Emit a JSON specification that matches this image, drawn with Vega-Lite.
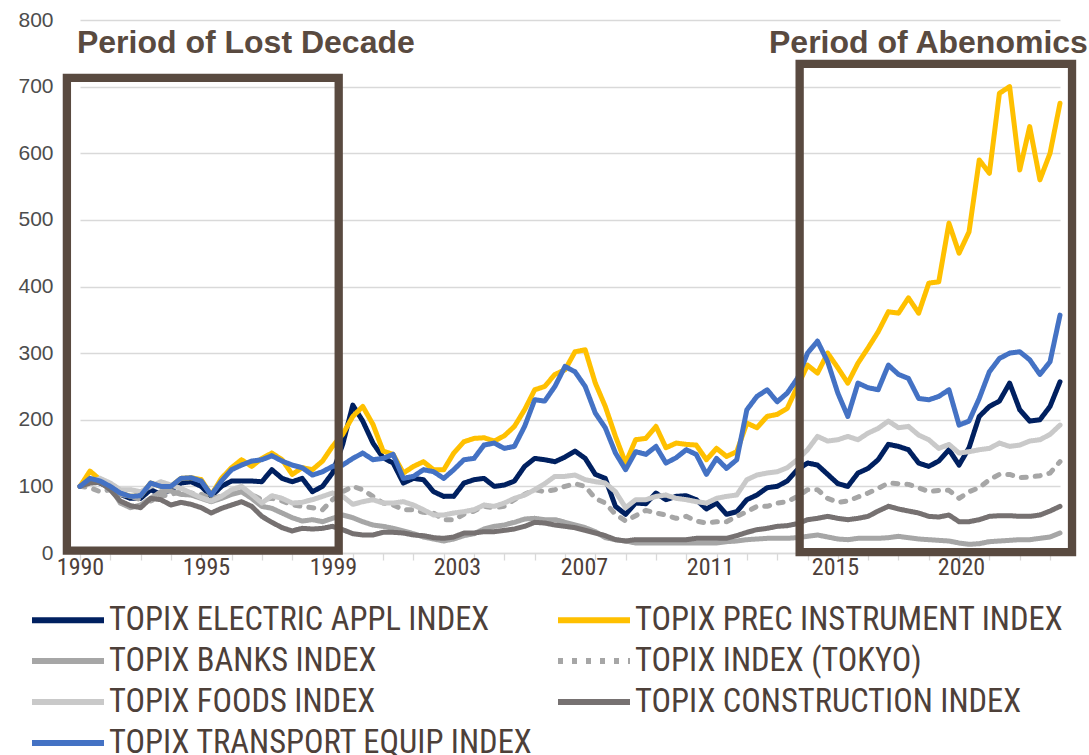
{
  "$schema": "https://vega.github.io/schema/vega-lite/v6.json",
  "width": 980,
  "height": 533,
  "autosize": {"type": "none"},
  "padding": {"left": 80, "top": 20, "right": 29, "bottom": 202},
  "background": "white",
  "config": {"view": {"stroke": null}, "font": "Liberation Sans"},
  "datasets": {
    "s": [
      {"d":"1990-01","e":100,"p":100,"b":100,"i":100,"f":100,"c":100,"t":100},
      {"d":"1990-05","e":110,"p":123,"b":110,"i":98,"f":105,"c":105,"t":112},
      {"d":"1990-09","e":105,"p":110,"b":108,"i":92,"f":112,"c":106,"t":108},
      {"d":"1991-01","e":98,"p":100,"b":100,"i":95,"f":105,"c":95,"t":100},
      {"d":"1991-05","e":88,"p":90,"b":75,"i":88,"f":95,"c":78,"t":90},
      {"d":"1991-09","e":82,"p":85,"b":68,"i":85,"f":95,"c":71,"t":85},
      {"d":"1992-01","e":82,"p":86,"b":72,"i":80,"f":92,"c":68,"t":86},
      {"d":"1992-05","e":95,"p":105,"b":82,"i":78,"f":100,"c":82,"t":105},
      {"d":"1992-09","e":88,"p":100,"b":92,"i":85,"f":107,"c":80,"t":100},
      {"d":"1993-01","e":95,"p":100,"b":93,"i":88,"f":102,"c":72,"t":100},
      {"d":"1993-05","e":105,"p":112,"b":88,"i":92,"f":97,"c":76,"t":112},
      {"d":"1993-09","e":107,"p":113,"b":87,"i":90,"f":90,"c":73,"t":113},
      {"d":"1994-01","e":100,"p":110,"b":82,"i":88,"f":83,"c":68,"t":108},
      {"d":"1994-05","e":85,"p":87,"b":77,"i":82,"f":78,"c":60,"t":87},
      {"d":"1994-09","e":100,"p":112,"b":82,"i":85,"f":85,"c":67,"t":108},
      {"d":"1995-01","e":108,"p":128,"b":88,"i":90,"f":95,"c":72,"t":125},
      {"d":"1995-05","e":108,"p":140,"b":92,"i":92,"f":100,"c":77,"t":132},
      {"d":"1995-09","e":108,"p":130,"b":82,"i":88,"f":88,"c":70,"t":138},
      {"d":"1996-01","e":107,"p":142,"b":70,"i":80,"f":75,"c":55,"t":140},
      {"d":"1996-05","e":125,"p":150,"b":67,"i":82,"f":86,"c":46,"t":146},
      {"d":"1996-09","e":112,"p":140,"b":60,"i":78,"f":82,"c":38,"t":138},
      {"d":"1997-01","e":107,"p":118,"b":53,"i":72,"f":75,"c":33,"t":132},
      {"d":"1997-05","e":112,"p":128,"b":48,"i":70,"f":76,"c":37,"t":128},
      {"d":"1997-09","e":92,"p":125,"b":50,"i":68,"f":80,"c":36,"t":117},
      {"d":"1998-01","e":100,"p":138,"b":47,"i":65,"f":85,"c":37,"t":122},
      {"d":"1998-05","e":120,"p":160,"b":52,"i":80,"f":90,"c":40,"t":130},
      {"d":"1998-09","e":163,"p":178,"b":57,"i":92,"f":85,"c":35,"t":132},
      {"d":"1999-01","e":222,"p":205,"b":53,"i":100,"f":73,"c":29,"t":142},
      {"d":"1999-05","e":198,"p":220,"b":47,"i":95,"f":77,"c":27,"t":150},
      {"d":"1999-09","e":165,"p":193,"b":42,"i":85,"f":80,"c":27,"t":140},
      {"d":"2000-01","e":143,"p":153,"b":40,"i":75,"f":75,"c":31,"t":142},
      {"d":"2000-05","e":135,"p":148,"b":37,"i":72,"f":75,"c":31,"t":148},
      {"d":"2000-09","e":105,"p":120,"b":33,"i":65,"f":77,"c":30,"t":112},
      {"d":"2001-01","e":112,"p":130,"b":29,"i":65,"f":72,"c":27,"t":115},
      {"d":"2001-05","e":110,"p":137,"b":24,"i":61,"f":65,"c":26,"t":125},
      {"d":"2001-09","e":92,"p":125,"b":21,"i":60,"f":57,"c":23,"t":122},
      {"d":"2002-01","e":85,"p":125,"b":18,"i":50,"f":57,"c":22,"t":112},
      {"d":"2002-05","e":85,"p":150,"b":21,"i":50,"f":60,"c":24,"t":125},
      {"d":"2002-09","e":105,"p":167,"b":26,"i":58,"f":62,"c":30,"t":140},
      {"d":"2003-01","e":110,"p":172,"b":29,"i":63,"f":65,"c":30,"t":142},
      {"d":"2003-05","e":112,"p":173,"b":36,"i":70,"f":72,"c":32,"t":162},
      {"d":"2003-09","e":100,"p":168,"b":40,"i":68,"f":70,"c":32,"t":165},
      {"d":"2004-01","e":102,"p":176,"b":42,"i":70,"f":75,"c":34,"t":157},
      {"d":"2004-05","e":108,"p":190,"b":46,"i":80,"f":82,"c":36,"t":160},
      {"d":"2004-09","e":130,"p":215,"b":51,"i":88,"f":87,"c":40,"t":190},
      {"d":"2005-01","e":142,"p":245,"b":52,"i":95,"f":95,"c":46,"t":230},
      {"d":"2005-05","e":140,"p":250,"b":50,"i":92,"f":104,"c":45,"t":228},
      {"d":"2005-09","e":137,"p":268,"b":50,"i":95,"f":115,"c":42,"t":250},
      {"d":"2006-01","e":144,"p":275,"b":46,"i":100,"f":115,"c":40,"t":280},
      {"d":"2006-05","e":153,"p":302,"b":42,"i":104,"f":117,"c":38,"t":272},
      {"d":"2006-09","e":142,"p":305,"b":38,"i":100,"f":110,"c":34,"t":250},
      {"d":"2007-01","e":118,"p":255,"b":32,"i":82,"f":107,"c":30,"t":210},
      {"d":"2007-05","e":112,"p":220,"b":23,"i":75,"f":105,"c":26,"t":188},
      {"d":"2007-09","e":70,"p":175,"b":20,"i":58,"f":92,"c":20,"t":150},
      {"d":"2008-01","e":58,"p":135,"b":18,"i":48,"f":68,"c":18,"t":125},
      {"d":"2008-05","e":75,"p":170,"b":15,"i":56,"f":80,"c":20,"t":152},
      {"d":"2008-09","e":74,"p":172,"b":15,"i":64,"f":80,"c":20,"t":148},
      {"d":"2009-01","e":90,"p":190,"b":15,"i":60,"f":85,"c":20,"t":160},
      {"d":"2009-05","e":80,"p":158,"b":15,"i":57,"f":87,"c":20,"t":135},
      {"d":"2009-09","e":85,"p":165,"b":15,"i":52,"f":82,"c":20,"t":143},
      {"d":"2010-01","e":86,"p":163,"b":15,"i":55,"f":80,"c":20,"t":155},
      {"d":"2010-05","e":80,"p":162,"b":15,"i":48,"f":77,"c":22,"t":148},
      {"d":"2010-09","e":66,"p":140,"b":15,"i":45,"f":75,"c":22,"t":118},
      {"d":"2011-01","e":75,"p":157,"b":15,"i":47,"f":82,"c":22,"t":142},
      {"d":"2011-05","e":58,"p":145,"b":17,"i":47,"f":85,"c":22,"t":127},
      {"d":"2011-09","e":62,"p":152,"b":18,"i":55,"f":87,"c":26,"t":140},
      {"d":"2012-01","e":80,"p":195,"b":20,"i":62,"f":110,"c":31,"t":215},
      {"d":"2012-05","e":87,"p":188,"b":21,"i":70,"f":117,"c":35,"t":235},
      {"d":"2012-09","e":98,"p":205,"b":22,"i":70,"f":120,"c":37,"t":245},
      {"d":"2013-01","e":100,"p":208,"b":22,"i":75,"f":122,"c":40,"t":227},
      {"d":"2013-05","e":108,"p":217,"b":22,"i":77,"f":128,"c":41,"t":240},
      {"d":"2013-09","e":125,"p":250,"b":23,"i":85,"f":140,"c":44,"t":262},
      {"d":"2014-01","e":135,"p":282,"b":25,"i":95,"f":155,"c":50,"t":300},
      {"d":"2014-05","e":132,"p":270,"b":27,"i":95,"f":175,"c":52,"t":318},
      {"d":"2014-09","e":118,"p":300,"b":24,"i":82,"f":168,"c":55,"t":287},
      {"d":"2015-01","e":104,"p":278,"b":21,"i":76,"f":170,"c":52,"t":240},
      {"d":"2015-05","e":100,"p":255,"b":20,"i":78,"f":175,"c":50,"t":205},
      {"d":"2015-09","e":120,"p":285,"b":22,"i":84,"f":170,"c":52,"t":255},
      {"d":"2016-01","e":127,"p":308,"b":22,"i":90,"f":180,"c":55,"t":248},
      {"d":"2016-05","e":140,"p":332,"b":22,"i":97,"f":187,"c":63,"t":245},
      {"d":"2016-09","e":163,"p":362,"b":23,"i":105,"f":198,"c":70,"t":282},
      {"d":"2017-01","e":160,"p":360,"b":25,"i":104,"f":188,"c":66,"t":268},
      {"d":"2017-05","e":155,"p":383,"b":23,"i":103,"f":190,"c":63,"t":262},
      {"d":"2017-09","e":135,"p":360,"b":21,"i":98,"f":177,"c":60,"t":232},
      {"d":"2018-01","e":130,"p":405,"b":20,"i":92,"f":170,"c":55,"t":230},
      {"d":"2018-05","e":138,"p":407,"b":19,"i":94,"f":157,"c":54,"t":235},
      {"d":"2018-09","e":155,"p":495,"b":18,"i":94,"f":163,"c":57,"t":245},
      {"d":"2019-01","e":132,"p":450,"b":15,"i":82,"f":150,"c":47,"t":192},
      {"d":"2019-05","e":158,"p":482,"b":13,"i":92,"f":152,"c":47,"t":198},
      {"d":"2019-09","e":205,"p":590,"b":14,"i":98,"f":155,"c":50,"t":232},
      {"d":"2020-01","e":220,"p":570,"b":17,"i":110,"f":157,"c":55,"t":272},
      {"d":"2020-05","e":228,"p":690,"b":18,"i":118,"f":165,"c":56,"t":292},
      {"d":"2020-09","e":255,"p":700,"b":19,"i":118,"f":160,"c":56,"t":300},
      {"d":"2021-01","e":215,"p":575,"b":20,"i":113,"f":162,"c":55,"t":302},
      {"d":"2021-05","e":198,"p":640,"b":20,"i":114,"f":168,"c":55,"t":290},
      {"d":"2021-09","e":200,"p":560,"b":22,"i":116,"f":170,"c":57,"t":268},
      {"d":"2022-01","e":220,"p":600,"b":24,"i":120,"f":178,"c":63,"t":287},
      {"d":"2022-05","e":257,"p":675,"b":30,"i":137,"f":192,"c":70,"t":357}
    ],
    "boxes": [
      {"x1":"1989-07-27","x2":"1998-07-15","y1":3.7,"y2":713},
      {"x1":"2013-09-28","x2":"2022-09-23","y1":1.2,"y2":734}
    ],
    "titles": [
      {"x":"1989-11-25","y":750,"t":"Period of Lost Decade"},
      {"x":"2012-09-24","y":750,"t":"Period of Abenomics"}
    ]
  },
  "layer": [
    {
      "data": {"name": "s"},
      "transform": [{"fold": ["e","p","b","i","f","c","t"], "as": ["k","v"]}],
      "mark": {"type": "line", "strokeWidth": 5, "strokeCap": "round", "strokeJoin": "round"},
      "encoding": {
        "x": {
          "field": "d", "type": "temporal",
          "scale": {"domain": [{"year":1990,"month":1,"date":1,"utc":true},{"year":2022,"month":5,"date":1,"utc":true}]},
          "axis": {"orient": "bottom", "tickCount": {"interval": "year", "step": 1}, "labels": false, "grid": false,
                   "domain": true, "domainColor": "#d9d9d9", "domainWidth": 1.3, "ticks": true, "tickColor": "#d9d9d9",
                   "tickSize": 7, "tickWidth": 1.3, "title": null}
        },
        "y": {
          "field": "v", "type": "quantitative",
          "scale": {"domain": [0, 800], "nice": false, "zero": true},
          "axis": {"values": [0,100,200,300,400,500,600,700,800], "grid": true, "gridColor": "#d9d9d9", "gridWidth": 1.3,
                   "domain": false, "ticks": false, "labelFont": "Liberation Sans", "labelFontSize": 21, "labelColor": "#4d4d4d",
                   "labelPadding": 27, "title": null}
        },
        "color": {
          "field": "k", "type": "nominal",
          "scale": {"domain": ["e","p","b","i","f","c","t"], "range": ["#002060","#FFC000","#A6A6A6","#A6A6A6","#C9C9C9","#767171","#4472C4"]},
          "legend": {
            "orient": "none", "legendX": -51, "legendY": 585, "columns": 2, "direction": "horizontal", "title": null, "padding": 0,
            "symbolType": "stroke", "symbolSize": 5184, "symbolStrokeWidth": 6, "clipHeight": 30,
            "labelFont": "Roboto Condensed, DejaVu Sans Condensed, Liberation Sans", "labelFontSize": 32.5, "labelColor": "#4d4039", "labelOffset": 2,
            "rowPadding": 8, "columnPadding": 21, "labelLimit": 800,
            "labelExpr": "datum.label=='e'?'TOPIX ELECTRIC APPL INDEX':datum.label=='p'?'TOPIX PREC INSTRUMENT INDEX':datum.label=='b'?'TOPIX BANKS INDEX':datum.label=='i'?'TOPIX INDEX (TOKYO)':datum.label=='f'?'TOPIX FOODS INDEX':datum.label=='c'?'TOPIX CONSTRUCTION INDEX':'TOPIX TRANSPORT EQUIP INDEX'"
          }
        },
        "strokeDash": {
          "field": "k", "type": "nominal",
          "scale": {"domain": ["e","p","b","i","f","c","t"], "range": [[1,0],[1,0],[1,0],[5,9],[1,0],[1,0],[1,0]]}
        }
      }
    },
    {
      "data": {"name": "boxes"},
      "mark": {"type": "rect", "filled": false, "stroke": "#594a40", "strokeWidth": 8.3},
      "encoding": {
        "x": {
          "field": "x1", "type": "temporal",
          "axis": {"orient": "bottom", "title": null, "grid": false, "domain": false, "ticks": false, "labelFlush": false,
                   "values": [{"year":1990,"month":1,"date":1,"utc":true},{"year":1994,"month":2,"date":27,"utc":true},{"year":1998,"month":5,"date":6,"utc":true},{"year":2002,"month":6,"date":9,"utc":true},{"year":2006,"month":8,"date":17,"utc":true},{"year":2010,"month":10,"date":14,"utc":true},{"year":2014,"month":11,"date":28,"utc":true},{"year":2019,"month":1,"date":24,"utc":true}],
                   "labelExpr": "utcyear(datum.value)==1990 ? '1990' : '' + (utcyear(datum.value)+1)",
                   "labelFont": "Roboto Condensed, DejaVu Sans Condensed, Liberation Sans", "labelFontSize": 24, "labelColor": "#4d4039", "labelPadding": 2,
                   "labelOverlap": false}
        },
        "x2": {"field": "x2"},
        "y": {"field": "y1", "type": "quantitative"},
        "y2": {"field": "y2"}
      }
    },
    {
      "data": {"name": "titles"},
      "mark": {"type": "text", "align": "left", "baseline": "alphabetic", "font": "Liberation Sans", "fontWeight": "bold", "fontSize": 32, "color": "#594a40"},
      "encoding": {
        "x": {"field": "x", "type": "temporal", "axis": null},
        "y": {"field": "y", "type": "quantitative"},
        "text": {"field": "t"}
      }
    }
  ],
  "resolve": {"axis": {"x": "independent"}}
}
